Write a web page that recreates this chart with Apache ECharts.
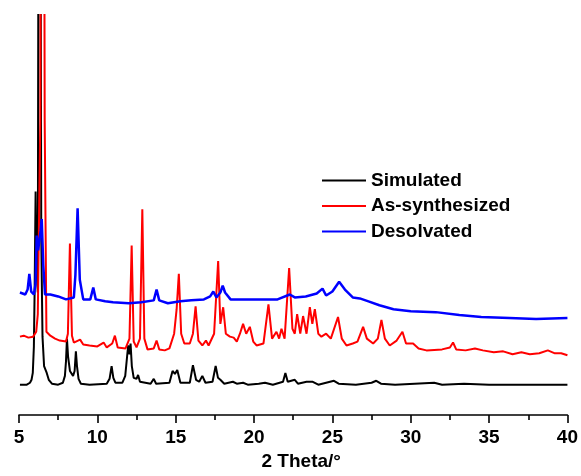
<!DOCTYPE html>
<html>
<head>
<meta charset="utf-8">
<script src="https://cdn.jsdelivr.net/npm/echarts@6/dist/echarts.min.js"></script>
<style>
  html, body { margin: 0; padding: 0; background: #fff; }
  #chart { width: 581px; height: 476px; }
</style>
</head>
<body>
<div id="chart"></div>
<script>
// Powder XRD patterns, stacked with vertical offsets (arbitrary intensity units)
const seriesNames = ['Simulated', 'As-synthesized', 'Desolvated'];
const xTicks = [5, 10, 15, 20, 25, 30, 35, 40];

const simTheta = [5.06, 5.5, 5.7, 5.8, 5.88, 5.95, 6.0, 6.06, 6.12, 6.2, 6.3, 6.42, 6.5, 6.6, 6.77, 6.9, 7.1, 7.5,
  7.8, 7.93, 8.0, 8.06, 8.13, 8.25, 8.45, 8.55, 8.63, 8.7, 8.8, 8.95, 9.5,
  10.6, 10.78, 10.91, 11.02, 11.15, 11.6, 11.78, 11.9, 11.97, 12.05, 12.12, 12.2, 12.32, 12.5, 12.6, 12.72,
  13.4, 13.6, 13.75, 14.6, 14.8, 14.95, 15.1, 15.3,
  15.9, 16.1, 16.3, 16.5, 16.7, 16.9, 17.35, 17.55, 17.7, 17.85, 18.1, 18.65, 18.9, 19.3, 19.6, 20.3, 20.7, 21.2, 21.85, 22.0, 22.15,
  22.6, 22.8, 23.35, 23.75, 24.1, 25.1, 25.4, 26.5, 27.5, 27.8, 28.1, 29.0, 31.5, 32.0, 33.4, 35.0, 37.0, 40.0];
const simIntensity = [31, 31, 33, 36, 43, 70, 130, 228, 150, 125, 1100, 180, 80, 50, 43, 36, 32, 31,
  33, 40, 55, 78, 60, 45, 40, 45, 65, 50, 37, 32, 31,
  32, 37, 50, 38, 33, 33, 40, 60, 71, 62, 73, 50, 38, 37, 41, 34,
  32, 37, 32, 33, 45, 42, 46, 33,
  33, 51, 36, 34, 40, 33, 34, 50, 38, 36, 32, 34, 32, 33, 31, 32, 33, 31, 34, 43, 34,
  36, 32, 34, 34, 31, 35, 32, 31, 33, 35, 32, 31, 33, 31, 32, 31, 31, 31];

const asTheta = [5.06, 5.3, 5.6, 5.9, 6.1, 6.2, 6.36, 6.5, 6.64, 6.75, 7.0, 7.3, 7.6, 8.0, 8.12, 8.25, 8.38, 8.5, 8.9, 9.1, 9.5, 10.0,
  10.4, 10.6, 10.95, 11.12, 11.3, 11.8, 12.05, 12.19, 12.32, 12.5, 12.72, 12.87, 13.0, 13.2, 13.6, 13.78, 13.95, 14.3, 14.6, 14.9,
  15.06, 15.2, 15.35, 15.55, 15.9, 16.1, 16.27, 16.45, 16.7, 16.93, 17.1, 17.45, 17.71, 17.85, 18.03, 18.2, 18.46, 18.7, 18.9, 19.1,
  19.3, 19.5, 19.73, 19.95, 20.16, 20.6, 20.92, 21.15, 21.43, 21.6, 21.75, 21.95, 22.24, 22.45, 22.6, 22.75, 22.95, 23.13, 23.35,
  23.56, 23.72, 23.88, 24.1, 24.3, 24.6, 24.9, 25.36, 25.6, 25.9, 26.3, 26.6, 26.96, 27.2, 27.6, 27.9, 28.13, 28.35, 28.66, 29.1,
  29.47, 29.7, 30.15, 30.5, 31.0, 32.0, 32.5, 32.7, 32.9, 33.5, 34.1, 34.6, 35.3, 35.9, 36.5, 37.06, 37.6, 38.2, 38.75, 39.2, 39.6, 40.0];
const asIntensity = [80, 81, 79, 80, 85, 103, 300, 1400, 300, 85, 81, 78, 76, 75, 83, 175, 81, 74, 77, 72, 71, 70,
  74, 69, 73, 81, 69, 68, 78, 173, 75, 69, 78, 210, 78, 67, 68, 76, 67, 66, 68, 83,
  108, 144, 83, 73, 73, 83, 111, 76, 71, 76, 71, 83, 157, 93, 110, 83, 80, 79, 75, 83,
  93, 83, 90, 75, 71, 73, 113, 78, 85, 78, 88, 78, 150, 88, 83, 103, 83, 101, 83,
  110, 93, 108, 83, 80, 83, 78, 100, 78, 71, 73, 75, 90, 78, 73, 78, 97, 78, 71, 76,
  85, 73, 73, 68, 66, 67, 69, 74, 67, 66, 68, 66, 64, 65, 62, 64, 62, 63, 66, 63, 63, 61];

const desTheta = [5.06, 5.4, 5.55, 5.66, 5.78, 5.95, 6.05, 6.13, 6.22, 6.38, 6.45, 6.55, 6.66, 7.0, 7.5, 8.0, 8.5, 8.6, 8.74, 8.88,
  9.1, 9.55, 9.74, 9.9, 10.5, 11.0, 12.0, 12.8, 13.6, 13.78, 13.95, 14.5, 15.3, 16.0, 16.8, 17.2, 17.4, 17.6, 17.85, 18.0, 18.15,
  18.5, 19.5, 20.5, 21.5, 22.28, 22.6, 23.3, 24.0, 24.37, 24.6, 25.0, 25.43, 25.8, 26.3, 26.75, 27.3, 28.0, 28.9, 30.0, 31.6,
  33.1, 34.5, 36.3, 38.0, 40.0];
const desIntensity = [125, 123, 128, 144, 126, 123, 133, 183, 168, 188, 200, 153, 123, 123, 121, 118, 120, 143, 211, 138,
  118, 118, 130, 118, 116, 115, 114, 115, 117, 128, 117, 114, 116, 117, 118, 121, 126, 120, 125, 132, 125,
  118, 118, 118, 118, 123, 120, 121, 124, 129, 122, 126, 136, 128, 120, 119, 116, 112, 108, 106, 105,
  102, 100, 99, 98, 99];

const seriesColors = ['#000000', '#ff0000', '#0000ff'];
const lineWidths = [2, 2, 2.5];

function zip(xs, ys) { return xs.map((x, i) => [x, ys[i]]); }
const dataSets = [zip(simTheta, simIntensity), zip(asTheta, asIntensity), zip(desTheta, desIntensity)];

const fontFamily = '"Liberation Sans", Arial, sans-serif';
// plain line swatch for the legend
const lineIcon = 'path://M0,0 L44,0 L44,2 L0,2 Z';

const chart = echarts.init(document.getElementById('chart'));
chart.setOption({
  animation: false,
  backgroundColor: '#ffffff',
  grid: { left: 19, right: 13, top: 15, bottom: 53, containLabel: false },
  legend: {
    orient: 'vertical',
    left: 322,
    top: 171,
    padding: 0,
    itemWidth: 44,
    itemHeight: 20,
    itemGap: 6.5,
    icon: lineIcon,
    textStyle: { color: '#000', fontSize: 19, fontWeight: 'bold', fontFamily: fontFamily },
    data: seriesNames
  },
  xAxis: {
    type: 'value',
    min: xTicks[0],
    max: xTicks[xTicks.length - 1],
    interval: 5,
    name: '2 Theta/°',
    nameLocation: 'middle',
    nameGap: 33,
    nameTextStyle: { color: '#000', fontSize: 19, fontWeight: 'bold', fontFamily: fontFamily, padding: [0, 0, 0, 16] },
    axisLine: { onZero: false, lineStyle: { color: '#000', width: 1.6 } },
    axisTick: { inside: false, length: 8, lineStyle: { color: '#000', width: 1.6 } },
    minorTick: { show: true, splitNumber: 2, length: 5, lineStyle: { color: '#000', width: 1.6 } },
    axisLabel: { color: '#000', fontSize: 19, fontWeight: 'bold', fontFamily: fontFamily, margin: 13 },
    splitLine: { show: false }
  },
  yAxis: {
    type: 'value',
    min: 0,
    max: 408,
    show: false
  },
  series: seriesNames.map((name, i) => ({
    name: name,
    type: 'line',
    data: dataSets[i],
    symbol: 'none',
    clip: true,
    color: seriesColors[i],
    lineStyle: { color: seriesColors[i], width: lineWidths[i] },
    z: 2 + i
  }))
});
</script>
</body>
</html>
